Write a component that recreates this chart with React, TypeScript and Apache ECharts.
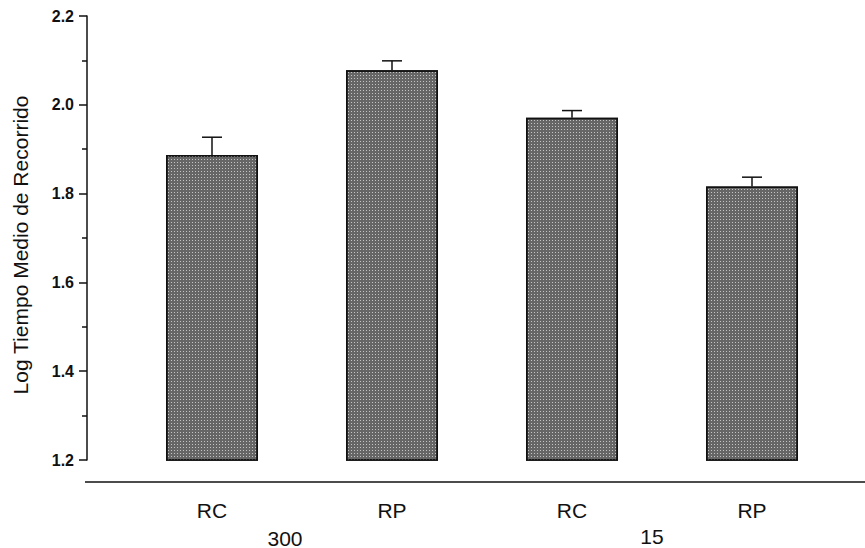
import React, { useEffect, useRef } from "react";
import * as echarts from "echarts";

const categories = ["RC", "RP", "RC", "RP"];
const means = [1.887, 2.078, 1.971, 1.816];
const errors = [0.04, 0.021, 0.016, 0.021];
const groupLabels = ["300", "15"];
const yTitle = "Log Tiempo Medio de Recorrido";
const yTicks = { min: 1.2, max: 2.2, interval: 0.2 };

const FONT = "'Liberation Sans', Arial, sans-serif";

export default function App() {
  const ref = useRef<HTMLDivElement>(null);
  useEffect(() => {
    if (!ref.current) return;
    const chart = echarts.init(ref.current, null, { renderer: "svg" });
    const errData = means.map((m, i) => [i, m, m + errors[i]]);
    chart.setOption({
      animation: false,
      backgroundColor: "#ffffff",
      grid: { left: 122, right: 23, top: 16, bottom: 88, containLabel: false },
      xAxis: {
        type: "category",
        data: categories,
        axisLine: { show: false },
        axisTick: { show: false },
        axisLabel: { margin: 40, fontSize: 21, color: "#111", fontFamily: FONT },
      },
      yAxis: {
        type: "value",
        min: yTicks.min,
        max: yTicks.max,
        interval: yTicks.interval,
        offset: 35,
        axisLine: { show: true, lineStyle: { color: "#111", width: 1.5 } },
        axisTick: { show: true, length: 8, lineStyle: { color: "#111", width: 1.5 } },
        minorTick: { show: true, splitNumber: 2, length: 5, lineStyle: { color: "#111", width: 1.5 } },
        splitLine: { show: false },
        axisLabel: {
          margin: 13,
          fontSize: 16,
          fontWeight: "bold",
          color: "#111",
          fontFamily: FONT,
          formatter: (v: number) => v.toFixed(1),
        },
      },
      graphic: [
        { type: "line", shape: { x1: 85, y1: 482, x2: 865, y2: 482 }, style: { stroke: "#111", lineWidth: 1.5 } },
        {
          type: "text",
          x: 20,
          y: 245,
          rotation: Math.PI / 2,
          style: { text: yTitle, fill: "#111", font: `21px ${FONT}`, align: "center", verticalAlign: "middle" },
        },
        { type: "text", x: 285, y: 538, style: { text: groupLabels[0], fill: "#111", font: `21px ${FONT}`, align: "center", verticalAlign: "middle" } },
        { type: "text", x: 652, y: 536, style: { text: groupLabels[1], fill: "#111", font: `21px ${FONT}`, align: "center", verticalAlign: "middle" } },
      ],
      series: [
        {
          type: "bar",
          data: means,
          barWidth: 92,
          itemStyle: {
            color: "#666666",
            borderColor: "#111",
            borderWidth: 1.5,
            decal: {
              symbol: "rect",
              symbolSize: 1,
              dashArrayX: [1, 2],
              dashArrayY: [1, 2],
              color: "#c4c4c4",
            },
          },
        },
        {
          type: "custom",
          data: errData,
          renderItem: (params: any, api: any) => {
            const base = api.coord([api.value(0), api.value(1)]);
            const top = api.coord([api.value(0), api.value(2)]);
            const st = { stroke: "#111", lineWidth: 1.5 };
            return {
              type: "group",
              children: [
                { type: "line", shape: { x1: base[0], y1: base[1], x2: base[0], y2: top[1] }, style: st },
                { type: "line", shape: { x1: base[0] - 10, y1: top[1], x2: base[0] + 10, y2: top[1] }, style: st },
              ],
            };
          },
          z: 3,
        },
      ],
    });
    return () => chart.dispose();
  }, []);
  return <div ref={ref} style={{ position: "fixed", left: 0, top: 0, width: 865, height: 548 }} />;
}
